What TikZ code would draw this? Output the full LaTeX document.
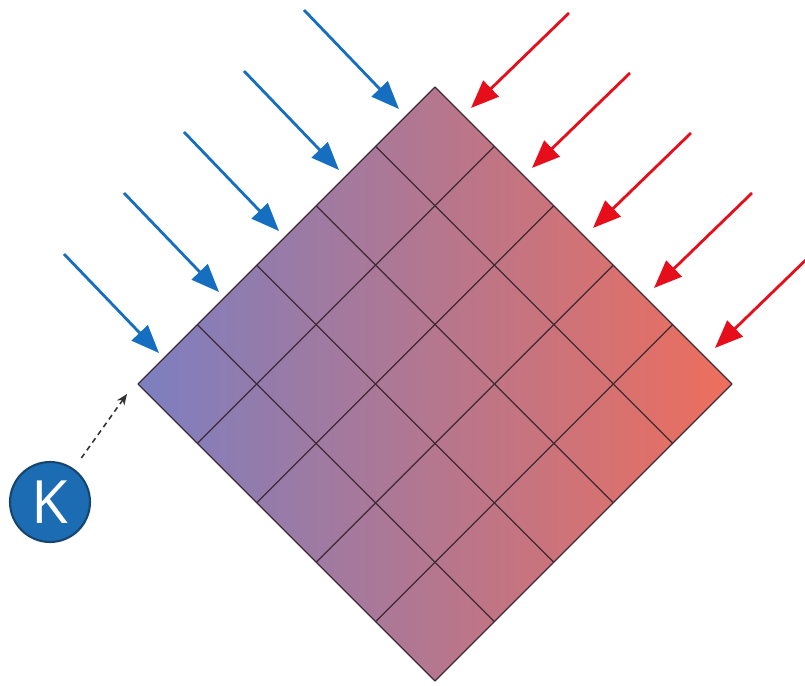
\documentclass[tikz,border=0pt]{standalone}
\usepackage{fontspec}
\usepackage{tikz}
\usetikzlibrary{arrows.meta,positioning,calc}
\newfontfamily\keyfont{Open Sans}
\definecolor{GridLeft}{RGB}{124,127,193}
\definecolor{GridRight}{RGB}{238,110,92}
\definecolor{GridLine}{RGB}{62,42,52}
\definecolor{InBlue}{RGB}{22,110,192}
\definecolor{InRed}{RGB}{230,14,26}
\definecolor{KeyBlue}{RGB}{27,108,179}
\definecolor{KeyRim}{RGB}{22,70,112}
\definecolor{DashGray}{RGB}{50,50,50}
\tikzset{
  gridline/.style={draw=GridLine,line width=0.7pt,line join=round},
  bluein/.style={-{Triangle[length=0.56cm,width=0.44cm]},draw=InBlue,fill=InBlue,line width=1.6pt},
  redin/.style={-{Triangle[length=0.56cm,width=0.44cm]},draw=InRed,fill=InRed,line width=1.6pt},
  keynode/.style={circle,fill=KeyBlue,draw=KeyRim,line width=1.2pt,minimum size=1.6cm,inner sep=0pt,text=white,font=\keyfont\fontsize{34}{36}\selectfont},
  keyarrow/.style={-{Stealth[length=0.22cm,width=0.18cm]},draw=DashGray,line width=0.9pt,dash pattern=on 3pt off 2.4pt,shorten <=0.26cm}
}
\begin{document}
\begin{tikzpicture}[x=0.02cm,y=-0.02cm]
\useasboundingbox (0,0) rectangle (805,686);
% corners of the grid
\coordinate (L) at (138,384);
\coordinate (T) at (435,87);
\coordinate (R) at (732,384);
\coordinate (B) at (435,681);

\shade[left color=GridLeft,right color=GridRight](L)--(T)--(R)--(B)--cycle;
\draw[gridline]($(L)!0.2!(T)$)--($(B)!0.2!(R)$);\draw[gridline]($(L)!0.4!(T)$)--($(B)!0.4!(R)$);\draw[gridline]($(L)!0.6!(T)$)--($(B)!0.6!(R)$);\draw[gridline]($(L)!0.8!(T)$)--($(B)!0.8!(R)$);
\draw[gridline]($(L)!0.2!(B)$)--($(T)!0.2!(R)$);\draw[gridline]($(L)!0.4!(B)$)--($(T)!0.4!(R)$);\draw[gridline]($(L)!0.6!(B)$)--($(T)!0.6!(R)$);\draw[gridline]($(L)!0.8!(B)$)--($(T)!0.8!(R)$);
\draw[gridline](L)--(T)--(R)--(B)--cycle;

% inputs from the left
\coordinate (b1s) at (64,254);\coordinate (b1) at (159,353);
\coordinate (b2s) at (124,193);\coordinate (b2) at (219,292);
\coordinate (b3s) at (184,132);\coordinate (b3) at (279,231);
\coordinate (b4s) at (244,71);\coordinate (b4) at (339,170);
\coordinate (b5s) at (304,10);\coordinate (b5) at (399,109);
\draw[bluein](b1s)--(b1);\draw[bluein](b2s)--(b2);\draw[bluein](b3s)--(b3);\draw[bluein](b4s)--(b4);\draw[bluein](b5s)--(b5);

% inputs from the right
\coordinate (r1s) at (569,13);\coordinate (r1) at (471,108);
\coordinate (r2s) at (630,73);\coordinate (r2) at (532,168);
\coordinate (r3s) at (691,133);\coordinate (r3) at (593,228);
\coordinate (r4s) at (752,193);\coordinate (r4) at (654,288);
\coordinate (r5s) at (813,253);\coordinate (r5) at (715,348);
\draw[redin](r1s)--(r1);\draw[redin](r2s)--(r2);\draw[redin](r3s)--(r3);\draw[redin](r4s)--(r4);\draw[redin](r5s)--(r5);

\node[keynode] (K) at (50,502) {K};
\coordinate (Kend) at (127,394);
\draw[keyarrow](K)--(Kend);
\end{tikzpicture}
\end{document}
